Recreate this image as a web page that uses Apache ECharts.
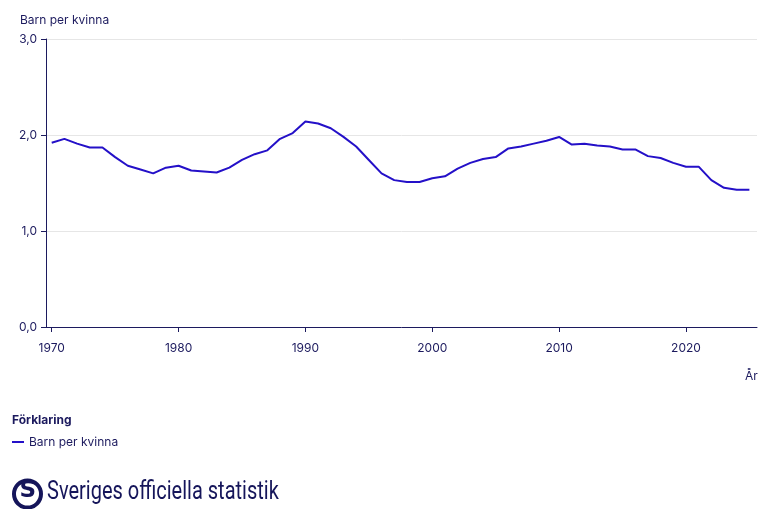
<!DOCTYPE html>
<html>
<head>
<meta charset="utf-8">
<script src="https://cdn.jsdelivr.net/npm/echarts@6/dist/echarts.min.js"></script>
<style>
html,body{margin:0;padding:0;background:#fff;}
#c{width:758px;height:509px;}
</style>
</head>
<body>
<div id="c"></div>
<script>
const years = [];
for (let y = 1970; y <= 2025; y++) years.push(y);
const barnPerKvinna = [
  1.92, 1.96, 1.91, 1.87, 1.87, 1.77, 1.68, 1.64, 1.60, 1.66,
  1.68, 1.63, 1.62, 1.61, 1.66, 1.74, 1.80, 1.84, 1.96, 2.02,
  2.14, 2.12, 2.07, 1.98, 1.88, 1.74, 1.60, 1.53, 1.51, 1.51,
  1.55, 1.57, 1.65, 1.71, 1.75, 1.77, 1.86, 1.88, 1.91, 1.94,
  1.98, 1.90, 1.91, 1.89, 1.88, 1.85, 1.85, 1.78, 1.76, 1.71,
  1.67, 1.67, 1.53, 1.45, 1.43, 1.43
];
const xTicks = [1970, 1980, 1990, 2000, 2010, 2020];
const yTicks = [0, 1, 2, 3];
const seriesName = 'Barn per kvinna';

const navy = '#1c1a5e';
const lineColor = '#2410c8';
const font = 'Inter, "Noto Sans", sans-serif';

const chart = echarts.init(document.getElementById('c'));
chart.setOption({
  animation: false,
  textStyle: { fontFamily: font },
  grid: { left: 46, right: 1, top: 39, bottom: 182 },
  xAxis: {
    type: 'value',
    min: 1969.55,
    max: 2025.6,
    axisLine: { show: true, lineStyle: { color: navy, width: 1 } },
    axisTick: { show: true, customValues: xTicks, length: 5, lineStyle: { color: navy } },
    axisLabel: { customValues: xTicks, color: navy, fontSize: 12, margin: 15, fontFamily: font, formatter: v => String(v) },
    splitLine: { show: false }
  },
  yAxis: {
    type: 'value',
    min: 0,
    max: 3,
    interval: 1,
    axisLine: { show: true, lineStyle: { color: navy, width: 1 } },
    axisTick: { show: true, length: 5, lineStyle: { color: navy } },
    axisLabel: { color: navy, fontSize: 12, margin: 9, fontFamily: font, formatter: v => v.toFixed(1).replace('.', ',') },
    splitLine: { show: true, lineStyle: { color: '#e6e6e6', width: 1 } }
  },
  legend: {
    show: true,
    left: 7,
    top: 431,
    icon: 'rect',
    itemWidth: 12,
    itemHeight: 2,
    itemGap: 5,
    textStyle: { color: navy, fontSize: 12, fontFamily: font },
    data: [{ name: seriesName, itemStyle: { color: lineColor } }]
  },
  graphic: [
    { type: 'text', left: 20, top: 14, style: { text: 'Barn per kvinna', fill: navy, font: '12px ' + font } },
    { type: 'text', left: 745, top: 370, style: { text: 'År', fill: navy, font: '12px ' + font } },
    { type: 'text', left: 12, top: 414, style: { text: 'Förklaring', fill: navy, font: 'bold 12px ' + font } },
    { type: 'circle', shape: { cx: 27.5, cy: 494, r: 13.5 }, style: { fill: 'none', stroke: '#15155a', lineWidth: 4 } },
    { type: 'text', x: 19.5, y: 480, style: { text: 'S', fill: '#15155a', font: 'bold 23px "DejaVu Sans", sans-serif' } },
    { type: 'text', x: 47, y: 480, scaleX: 0.8, style: { text: 'Sveriges officiella statistik', fill: '#15155a', font: '25px Roboto, sans-serif' } }
  ],
  series: [{
    name: seriesName,
    type: 'line',
    data: years.map((y, i) => [y, barnPerKvinna[i]]),
    showSymbol: false,
    symbol: 'none',
    lineStyle: { color: lineColor, width: 2 },
    itemStyle: { color: lineColor }
  }]
});
</script>
</body>
</html>
